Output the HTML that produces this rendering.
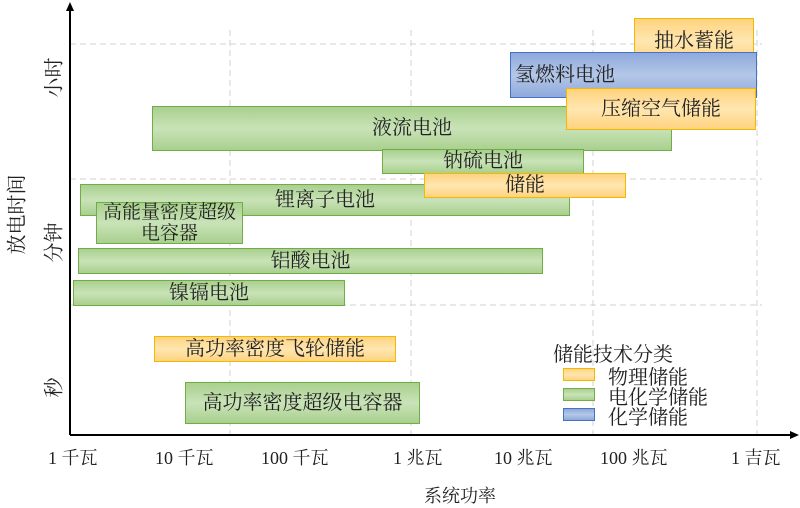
<!DOCTYPE html><html><head><meta charset="utf-8"><style>
body{margin:0;width:800px;height:507px;background:#fff;overflow:hidden;position:relative;font-family:"Liberation Serif","Noto Serif CJK SC",serif;color:#222}
.b{position:absolute;box-sizing:border-box;display:flex;align-items:center;justify-content:center;font-size:20px;line-height:21px;text-align:center}
.g{background:linear-gradient(#a9d08e,#c9e3b8 50%,#a9d08e);border:1px solid #70ad47}
.o{background:linear-gradient(#ffd37f,#ffe6b0 50%,#ffd37f);border:1px solid #f5b800}
.u{background:linear-gradient(#8ea9db,#b4c7e7 50%,#8ea9db);border:1px solid #4472c4}
.t{position:absolute;font-size:18px;white-space:nowrap}
.r{position:absolute;font-size:20px;transform:rotate(-90deg);white-space:nowrap}
</style></head><body>
<svg width="800" height="507" style="position:absolute;left:0;top:0">
<g stroke="#d0d0d0" stroke-dasharray="6,4" stroke-width="1">
<line x1="230" y1="30" x2="230" y2="435"/><line x1="411" y1="30" x2="411" y2="435"/><line x1="593" y1="30" x2="593" y2="435"/><line x1="757" y1="30" x2="757" y2="435"/>
<line x1="70" y1="44" x2="762" y2="44"/><line x1="70" y1="179" x2="762" y2="179"/><line x1="70" y1="305" x2="762" y2="305"/>
</g>
<line x1="70" y1="435" x2="70" y2="8" stroke="#000" stroke-width="2"/>
<polygon points="70,2 66,11 74,11" fill="#000"/>
<line x1="70" y1="435" x2="792" y2="435" stroke="#000" stroke-width="2"/>
<polygon points="799,435 790,431 790,439" fill="#000"/>
</svg>
<div class="b o" style="left:634px;top:18px;width:120px;height:46px">抽水蓄能</div>
<div class="b u" style="left:510px;top:52px;width:247px;height:46px;justify-content:flex-start;padding-left:4px">氢燃料电池</div>
<div class="b g" style="left:152px;top:106px;width:520px;height:45px">液流电池</div>
<div class="b o" style="left:566px;top:88px;width:190px;height:42px">压缩空气储能</div>
<div class="b g" style="left:382px;top:149px;width:202px;height:25px">钠硫电池</div>
<div class="b g" style="left:80px;top:184px;width:490px;height:32px">锂离子电池</div>
<div class="b o" style="left:424px;top:173px;width:202px;height:25px">储能</div>
<div class="b g" style="left:96px;top:202px;width:147px;height:42px;font-size:19px">高能量密度超级<br>电容器</div>
<div class="b g" style="left:78px;top:248px;width:465px;height:26px">铝酸电池</div>
<div class="b g" style="left:73px;top:280px;width:272px;height:26px">镍镉电池</div>
<div class="b o" style="left:154px;top:336px;width:242px;height:26px">高功率密度飞轮储能</div>
<div class="b g" style="left:185px;top:382px;width:235px;height:42px">高功率密度超级电容器</div>
<div class="t" style="left:553px;top:338px;font-size:20px">储能技术分类</div>
<div class="b o" style="left:563px;top:368px;width:32px;height:13px"></div>
<div class="b g" style="left:563px;top:388px;width:32px;height:13px"></div>
<div class="b u" style="left:563px;top:408px;width:32px;height:13px"></div>
<div class="t" style="left:608px;top:361px;font-size:20px">物理储能</div>
<div class="t" style="left:608px;top:381px;font-size:20px">电化学储能</div>
<div class="t" style="left:608px;top:401px;font-size:20px">化学储能</div>
<div class="t" style="left:48px;top:444px">1 千瓦</div>
<div class="t" style="left:155px;top:444px">10 千瓦</div>
<div class="t" style="left:261px;top:444px">100 千瓦</div>
<div class="t" style="left:393px;top:444px">1 兆瓦</div>
<div class="t" style="left:494px;top:444px">10 兆瓦</div>
<div class="t" style="left:600px;top:444px">100 兆瓦</div>
<div class="t" style="left:731px;top:444px">1 吉瓦</div>
<div class="t" style="left:424px;top:482px">系统功率</div>
<div class="r" style="left:32px;top:63px">小时</div>
<div class="r" style="left:32px;top:228px">分钟</div>
<div class="r" style="left:42px;top:373px">秒</div>
<div class="r" style="left:-25px;top:200px">放电时间</div>
</body></html>
